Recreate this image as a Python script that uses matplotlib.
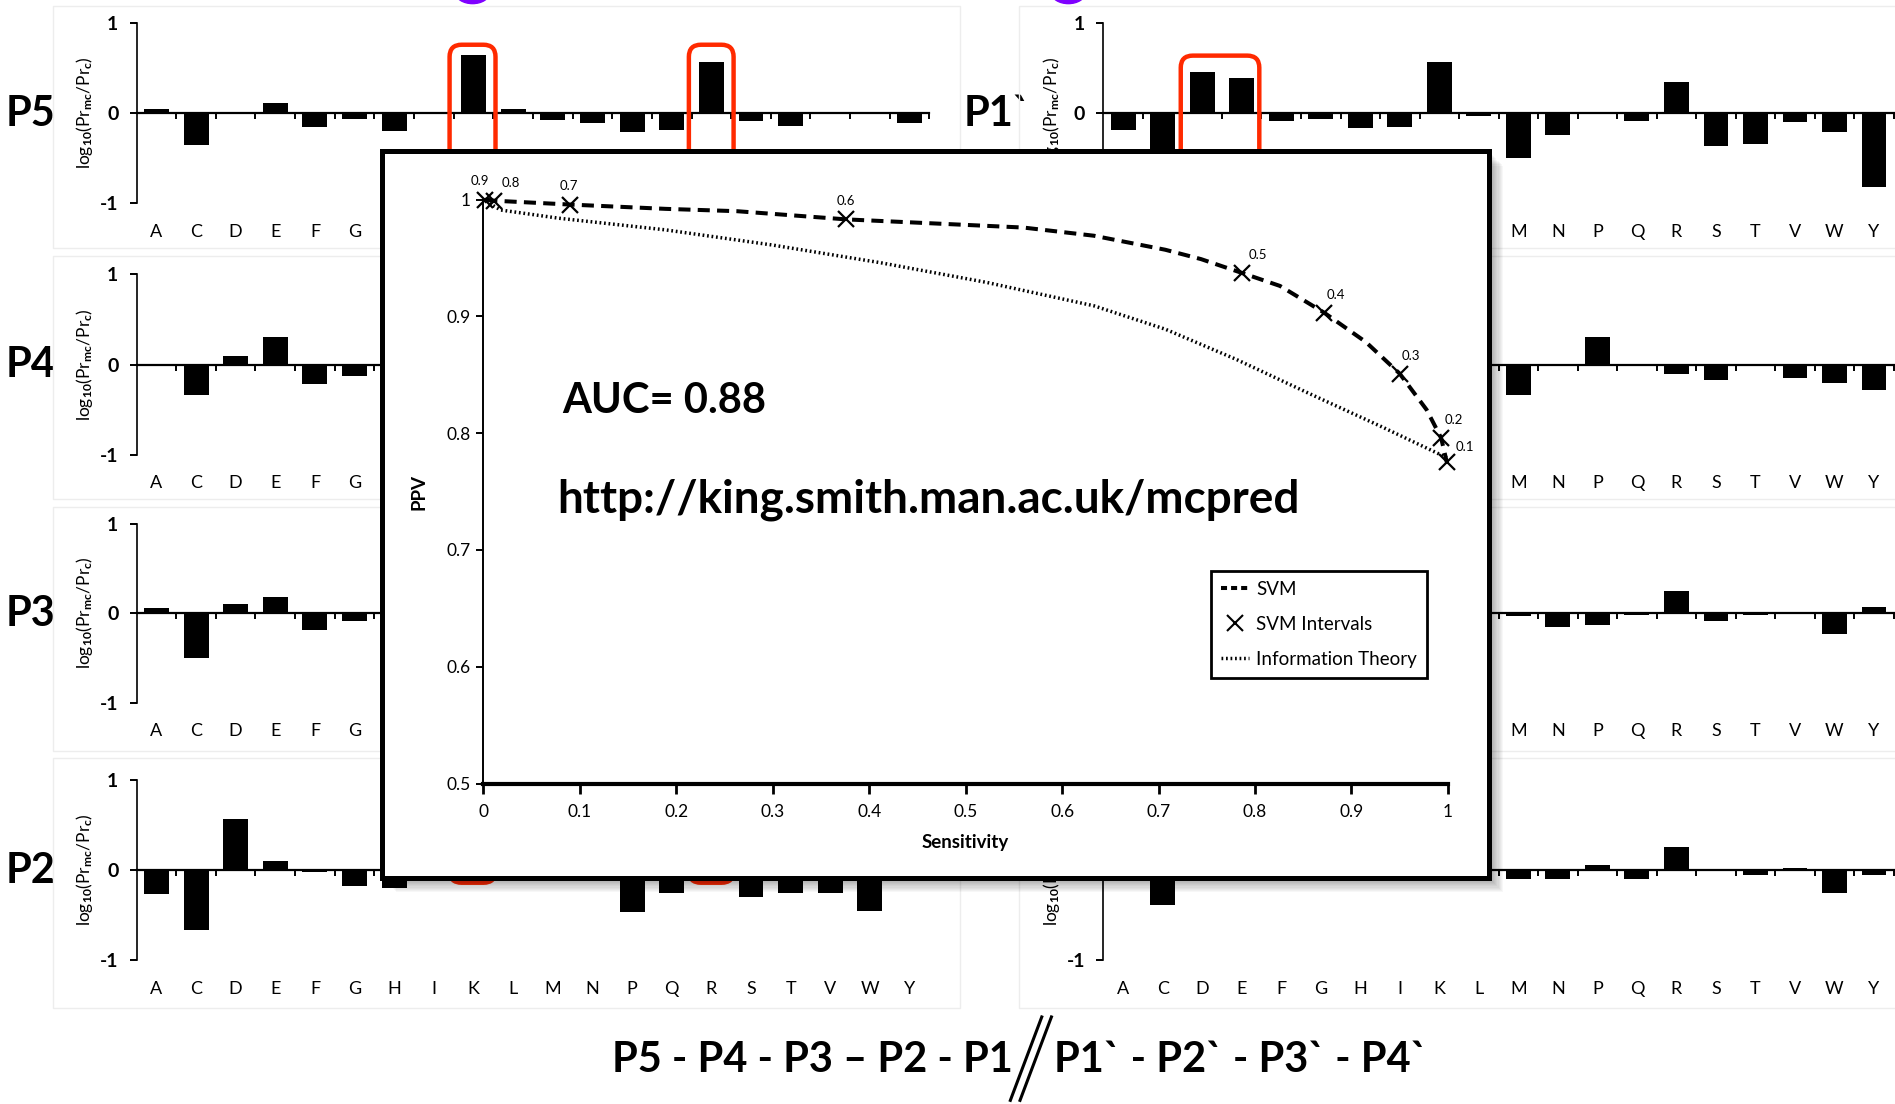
import numpy as np
import matplotlib
matplotlib.use("Agg")
import matplotlib.pyplot as plt
from matplotlib.patches import Rectangle, FancyBboxPatch, Ellipse
from matplotlib.lines import Line2D
from matplotlib.ticker import FuncFormatter

plt.rcParams["font.family"] = ["Lato", "DejaVu Sans"]
plt.rcParams["mathtext.fontset"] = "custom"
plt.rcParams["mathtext.rm"] = "Lato:bold"
plt.rcParams["mathtext.it"] = "Lato:italic"
plt.rcParams["mathtext.bf"] = "Lato:bold"

# layout grid: pixel coordinates of the reference as viewed (1568 x 913)
W0, H0 = 1568, 913


def fx(x):
    return x / W0


def fy(y):
    return 1 - y / H0


nan = np.nan
AMINO = list("ACDEFGHIKLMNPQRSTVWY")

# log10(Pr_mc / Pr_c) per residue; nan = hidden behind the inset
P5 = [0.05, -0.35, 0.0, 0.11, -0.16, -0.07, -0.20, 0.0, 0.65, 0.045,
      -0.08, -0.11, -0.21, -0.19, 0.57, -0.09, -0.14, 0.0, 0.0, -0.11]
P4 = [0.0, -0.34, 0.10, 0.31, -0.22, -0.125] + [nan] * 14
P3 = [0.055, -0.50, 0.10, 0.18, -0.19, -0.09] + [nan] * 14
P2 = [-0.27, -0.67, 0.57, 0.10, -0.02, -0.18, -0.20, nan, nan, nan,
      nan, nan, -0.47, -0.25, nan, -0.30, -0.26, -0.25, -0.45, 0.0]
P1p = [-0.185, -0.55, 0.46, 0.39, -0.09, -0.07, -0.17, -0.15, 0.57, -0.035,
       -0.50, -0.24, 0.0, -0.09, 0.34, -0.37, -0.34, -0.10, -0.21, -0.82]
P2p = [nan] * 10 + [-0.34, -0.02, 0.31, 0.0, -0.11, -0.17, 0.0, -0.15, -0.21, -0.28]
P3p = [nan] * 10 + [-0.035, -0.16, -0.13, -0.02, 0.25, -0.09, -0.02, 0.0, -0.23, 0.07]
P4p = [nan, -0.39, nan, nan, nan, nan, -0.11, nan, nan, nan,
       -0.10, -0.10, 0.055, -0.10, 0.26, 0.0, -0.055, 0.025, -0.26, -0.055]

LEFT_ROWS = [("P5", P5), ("P4", P4), ("P3", P3), ("P2", P2)]
RIGHT_ROWS = [("P1`", P1p), ("P2`", P2p), ("P3`", P3p), ("P4`", P4p)]

# inset: SVM precision/sensitivity curve and information theory curve
svm_sens = [0.002, 0.011, 0.0896, 0.189, 0.263, 0.376, 0.56, 0.633, 0.707, 0.744,
            0.787, 0.826, 0.872, 0.915, 0.950, 0.978, 0.993, 0.999]
svm_ppv = [1.0, 0.999, 0.9957, 0.992, 0.990, 0.983, 0.976, 0.969, 0.957, 0.949,
           0.937, 0.926, 0.903, 0.878, 0.851, 0.820, 0.796, 0.775]
thresholds = ["0.9", "0.8", "0.7", "0.6", "0.5", "0.4", "0.3", "0.2", "0.1"]
int_sens = [0.002, 0.011, 0.0896, 0.376, 0.787, 0.872, 0.950, 0.993, 0.999]
int_ppv = [1.0, 0.999, 0.9957, 0.983, 0.937, 0.903, 0.851, 0.796, 0.775]
it_sens = [0.002, 0.018, 0.078, 0.189, 0.30, 0.411, 0.522, 0.633, 0.707,
           0.781, 0.856, 0.93, 0.999]
it_ppv = [0.9986, 0.991, 0.984, 0.974, 0.961, 0.946, 0.929, 0.909, 0.889,
          0.863, 0.834, 0.806, 0.779]
label_offsets = [(-4, 13), (12, 13), (-1, 13), (0, 13), (11, 13),
                 (8, 13), (8, 13), (9, 13), (13, 11)]

ROW_TOP = [19, 227, 433, 645]
ROW_BOT = [168, 376, 581, 794]
FRAME_Y = [(5, 205), (212, 413), (419, 621), (627, 834)]

# inset box (same grid)
IX0, IY0, IX1, IY1 = 316, 125, 1232, 726

YLAB = r"log$_{\mathrm{10}}$(Pr$_{\mathrm{mc}}$/Pr$_{\mathrm{c}}$)"

fig = plt.figure(figsize=(18.95, 11.04), dpi=100)


def covered(x, y, half_h=0):
    # texts that the inset hides completely are not drawn
    return IX0 < x < IX1 + 10 and IY0 < y - half_h and y + half_h < IY1 + 10


def bar_panel(x0, x1, row, name, values, name_x, ylab_x):
    ax = fig.add_axes([fx(x0), fy(ROW_BOT[row]), fx(x1) - fx(x0),
                       fy(ROW_TOP[row]) - fy(ROW_BOT[row])], zorder=1)
    ax.set_facecolor("none")
    x = np.arange(len(AMINO))
    ax.bar(x, values, width=0.63, color="black")
    ax.set_xlim(-0.5, 19.5)
    ax.set_ylim(-1, 1)
    for s in ("top", "right"):
        ax.spines[s].set_visible(False)
    ax.spines["bottom"].set_position(("data", 0))
    ax.spines["bottom"].set_linewidth(1.6)
    ax.spines["left"].set_linewidth(1.2)
    ax.set_xticks(np.arange(0.5, 20, 1.0))
    ax.set_xticklabels([])
    ax.tick_params(axis="x", direction="out", length=4, width=1.4)
    yt = [-1, 0, 1]
    ty = [ROW_BOT[row], (ROW_TOP[row] + ROW_BOT[row]) / 2, ROW_TOP[row]]
    ax.set_yticks(yt)
    ax.set_yticklabels(["" if covered(x0 - 17, p) else f"{v}" for v, p in zip(yt, ty)],
                       fontweight="bold", fontsize=14)
    ax.tick_params(axis="y", direction="out", length=5, width=1.4, pad=8)
    step = (x1 - x0) / 20
    ylab_y = ROW_BOT[row] + 24
    for i, a in enumerate(AMINO):
        if covered(x0 + step * (i + 0.5), ylab_y):
            continue
        ax.text(i, -1.32, a, ha="center", va="center", fontsize=13, clip_on=False)
    ymid = (ROW_TOP[row] + ROW_BOT[row]) / 2
    if not covered(ylab_x, ymid, 55):
        ax.text(fx(ylab_x), fy(ymid), YLAB, rotation=90, ha="center", va="center",
                fontsize=12.5, transform=fig.transFigure)
    if not covered(name_x, ROW_TOP[row] + 75):
        ax.text(fx(name_x), fy(ROW_TOP[row] + 75), name, ha="center", va="center",
                fontsize=30, fontweight="bold", transform=fig.transFigure)
    return ax


for r, (name, vals) in enumerate(LEFT_ROWS):
    bar_panel(113, 769, r, name, vals, 25, 70)
for r, (name, vals) in enumerate(RIGHT_ROWS):
    bar_panel(913, 1567, r, name, vals, 825, 870)

# overlay for frames, highlight boxes, inset frame and captions
ov = fig.add_axes([0, 0, 1, 1], zorder=2)
ov.set_xlim(0, W0)
ov.set_ylim(H0, 0)
ov.axis("off")

for y0, y1 in FRAME_Y:
    ov.add_patch(Rectangle((44, y0), 750, y1 - y0, fill=False, ec="#ededed", lw=1, zorder=0))
    ov.add_patch(Rectangle((843, y0), 740, y1 - y0, fill=False, ec="#ededed", lw=1, zorder=0))

red = "#ff2a00"
for bx, by, bw, bh in [(372, 37, 38, 693), (570, 37, 37, 693), (977, 46, 65, 200)]:
    ov.add_patch(FancyBboxPatch((bx, by), bw, bh, boxstyle="round,pad=0,rounding_size=10",
                                fill=False, ec=red, lw=3.2, zorder=1))

for cx in (391, 884):
    ov.add_patch(Ellipse((cx, -6), 28, 18, color="#7f00ff", zorder=1))

# inset frame with drop shadow
for i in range(1, 13):
    ov.add_patch(Rectangle((IX0 + i, IY0 + i), IX1 - IX0, IY1 - IY0,
                           facecolor="black", alpha=0.03, lw=0, zorder=2))
ov.add_patch(Rectangle((IX0, IY0), IX1 - IX0, IY1 - IY0, facecolor="white",
                       edgecolor="black", lw=3.6, zorder=3))

ov.text(465, 332, "AUC= 0.88", fontsize=30, fontweight="bold", ha="left", va="center", zorder=10)
ov.text(461, 413, "http://king.smith.man.ac.uk/mcpred", fontsize=33, fontweight="bold",
        ha="left", va="center", zorder=10)

# bottom caption
ov.text(838, 877, "P5 - P4 - P3 \u2013 P2 - P1", fontsize=30, fontweight="bold",
        ha="right", va="center")
ov.text(872, 877, "P1` - P2` - P3` - P4`", fontsize=30, fontweight="bold",
        ha="left", va="center")
for dx in (0, 8):
    ov.add_line(Line2D([836 + dx, 862 + dx], [910, 841], color="black", lw=2.2))

# inset chart
ax = fig.add_axes([fx(400), fy(648), fx(1198) - fx(400), fy(165) - fy(648)], zorder=3)
ax.set_facecolor("none")
ax.plot(svm_sens, svm_ppv, color="black", lw=2.9, dashes=(3, 1.8), clip_on=False)
ax.plot(it_sens, it_ppv, color="black", lw=2.5, linestyle=(0, (0.5, 0.8)), clip_on=False)
ax.plot(int_sens, int_ppv, "x", color="black", ms=12, mew=1.6, clip_on=False)
for t, sx, sy, (ox, oy) in zip(thresholds, int_sens, int_ppv, label_offsets):
    ax.annotate(t, (sx, sy), xytext=(ox, oy), textcoords="offset points",
                ha="center", va="center", fontsize=9.5)
ax.set_xlim(0, 1)
ax.set_ylim(0.5, 1)
for s in ("top", "right"):
    ax.spines[s].set_visible(False)
ax.spines["left"].set_linewidth(1.4)
ax.spines["bottom"].set_linewidth(3)
ax.set_xticks(np.arange(0, 1.01, 0.1))
ax.set_yticks(np.arange(0.5, 1.01, 0.1))
fmt = FuncFormatter(lambda v, p: f"{v:.1f}".rstrip("0").rstrip(".") if v not in (0, 1) else f"{v:.0f}")
ax.xaxis.set_major_formatter(fmt)
ax.yaxis.set_major_formatter(fmt)
ax.tick_params(axis="x", direction="out", length=7, width=2, labelsize=12.5, pad=8)
ax.tick_params(axis="y", direction="out", length=5, width=1.4, labelsize=12.5, pad=4)
ax.set_xlabel("Sensitivity", fontsize=13.5, fontweight="bold", labelpad=10)
ax.set_ylabel("PPV", fontsize=13.5, fontweight="bold", labelpad=14)

handles = [Line2D([], [], color="black", lw=2.9, dashes=(1.5, 1.0)),
           Line2D([], [], color="black", marker="x", ls="none", ms=11, mew=1.5),
           Line2D([], [], color="black", lw=2.5, linestyle=(0, (0.5, 0.8)))]
leg = ax.legend(handles, ["SVM", "SVM Intervals", "Information Theory"],
                loc="upper left", bbox_to_anchor=(fx(1002), fy(472)),
                bbox_transform=fig.transFigure, fontsize=13.5, frameon=True,
                fancybox=False, edgecolor="black", framealpha=1,
                handlelength=1.5, handletextpad=0.35, borderpad=0.55,
                labelspacing=0.95, borderaxespad=0)
leg.get_frame().set_linewidth(2)

fig.savefig("out.png", dpi=100, facecolor="white")
